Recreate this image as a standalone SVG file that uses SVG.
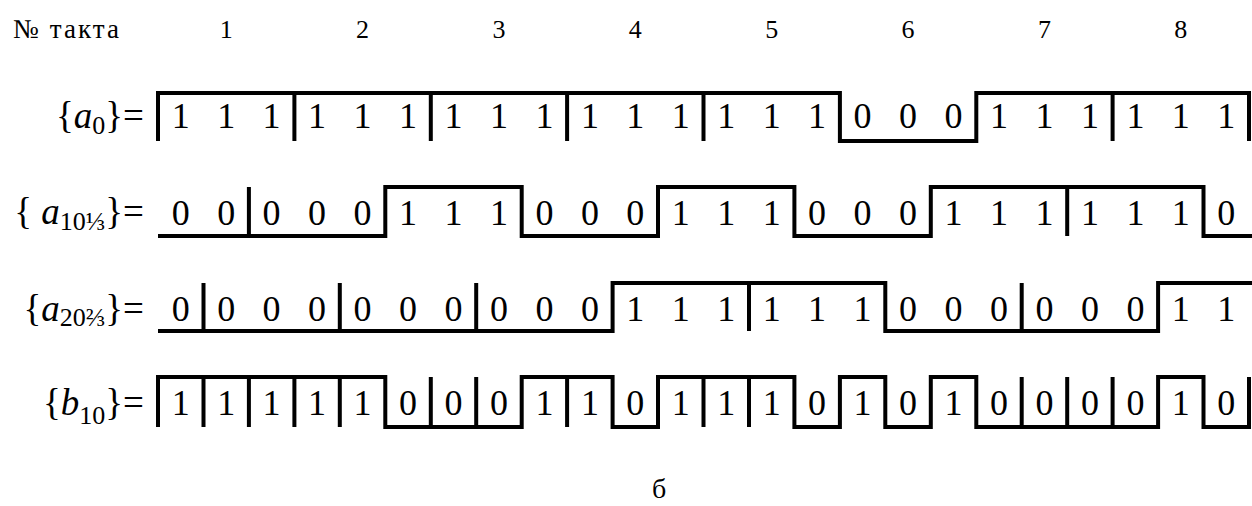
<svg xmlns="http://www.w3.org/2000/svg" width="1252" height="506" viewBox="0 0 1252 506">
<style>
text{font-family:'Liberation Serif','Times New Roman',serif;fill:#000}
.hd{font-size:26px;text-anchor:middle}
.d{font-size:36px;text-anchor:middle}
.lb{font-size:37px;text-anchor:end}
.it{font-style:italic}
.sub{font-size:26px}
.w{fill:none;stroke:#000;stroke-width:4;stroke-linejoin:miter;stroke-linecap:butt}
</style>
<rect width="1252" height="506" fill="#fff"/>
<g id="header">
<text x="13" y="38" style="font-size:27px" textLength="106" lengthAdjust="spacing">№ такта</text>
<text class="hd" x="226.2" y="38">1</text>
<text class="hd" x="362.6" y="38">2</text>
<text class="hd" x="499" y="38">3</text>
<text class="hd" x="635.3" y="38">4</text>
<text class="hd" x="771.7" y="38">5</text>
<text class="hd" x="908.1" y="38">6</text>
<text class="hd" x="1044.4" y="38">7</text>
<text class="hd" x="1180.8" y="38">8</text>
</g>
<g id="row-a0">
<text class="lb" x="144" y="128">{<tspan class="it">a</tspan><tspan class="sub" dy="6">0</tspan><tspan dy="-6">}=</tspan></text>
<path class="w" d="M158,141V93H839.9V141H976.3V93H1249V141"/>
<path class="w" d="M294.4,93V141M430.8,93V141M567.1,93V141M703.5,93V141M1112.6,93V141"/>
<g class="bits">
<text class="d" x="180.7" y="128">1</text><text class="d" x="226.2" y="128">1</text><text class="d" x="271.6" y="128">1</text>
<text class="d" x="317.1" y="128">1</text><text class="d" x="362.6" y="128">1</text><text class="d" x="408" y="128">1</text>
<text class="d" x="453.5" y="128">1</text><text class="d" x="498.9" y="128">1</text><text class="d" x="544.4" y="128">1</text>
<text class="d" x="589.9" y="128">1</text><text class="d" x="635.3" y="128">1</text><text class="d" x="680.8" y="128">1</text>
<text class="d" x="726.2" y="128">1</text><text class="d" x="771.7" y="128">1</text><text class="d" x="817.1" y="128">1</text>
<text class="d" x="862.6" y="128">0</text><text class="d" x="908.1" y="128">0</text><text class="d" x="953.5" y="128">0</text>
<text class="d" x="999" y="128">1</text><text class="d" x="1044.4" y="128">1</text><text class="d" x="1089.9" y="128">1</text>
<text class="d" x="1135.4" y="128">1</text><text class="d" x="1180.8" y="128">1</text><text class="d" x="1226.3" y="128">1</text>
</g>
</g>
<g id="row-a10">
<text class="lb" x="144" y="224">{ <tspan class="it">a</tspan><tspan class="sub" dy="6">10⅓</tspan><tspan dy="-6">}=</tspan></text>
<path class="w" d="M158,236H385.3V187H521.7V236H658V187H794.4V236H930.8V187H1203.5V236H1252"/>
<path class="w" d="M248.9,187V236M1067.2,187V236"/>
<g class="bits">
<text class="d" x="180.7" y="225">0</text><text class="d" x="226.2" y="225">0</text>
<text class="d" x="271.6" y="225">0</text><text class="d" x="317.1" y="225">0</text><text class="d" x="362.6" y="225">0</text>
<text class="d" x="408" y="225">1</text><text class="d" x="453.5" y="225">1</text><text class="d" x="498.9" y="225">1</text>
<text class="d" x="544.4" y="225">0</text><text class="d" x="589.9" y="225">0</text><text class="d" x="635.3" y="225">0</text>
<text class="d" x="680.8" y="225">1</text><text class="d" x="726.2" y="225">1</text><text class="d" x="771.7" y="225">1</text>
<text class="d" x="817.1" y="225">0</text><text class="d" x="862.6" y="225">0</text><text class="d" x="908.1" y="225">0</text>
<text class="d" x="953.5" y="225">1</text><text class="d" x="999" y="225">1</text><text class="d" x="1044.4" y="225">1</text>
<text class="d" x="1089.9" y="225">1</text><text class="d" x="1135.4" y="225">1</text><text class="d" x="1180.8" y="225">1</text>
<text class="d" x="1226.3" y="225">0</text>
</g>
</g>
<g id="row-a20">
<text class="lb" x="144" y="321">{<tspan class="it">a</tspan><tspan class="sub" dy="5">20⅔</tspan><tspan dy="-5">}=</tspan></text>
<path class="w" d="M158,331H612.6V283H885.3V331H1158.1V283H1252"/>
<path class="w" d="M203.5,283V331M339.8,283V331M476.2,283V331M749,283V331M1021.7,283V331"/>
<g class="bits">
<text class="d" x="180.7" y="321">0</text>
<text class="d" x="226.2" y="321">0</text><text class="d" x="271.6" y="321">0</text><text class="d" x="317.1" y="321">0</text>
<text class="d" x="362.6" y="321">0</text><text class="d" x="408" y="321">0</text><text class="d" x="453.5" y="321">0</text>
<text class="d" x="498.9" y="321">0</text><text class="d" x="544.4" y="321">0</text><text class="d" x="589.9" y="321">0</text>
<text class="d" x="635.3" y="321">1</text><text class="d" x="680.8" y="321">1</text><text class="d" x="726.2" y="321">1</text>
<text class="d" x="771.7" y="321">1</text><text class="d" x="817.1" y="321">1</text><text class="d" x="862.6" y="321">1</text>
<text class="d" x="908.1" y="321">0</text><text class="d" x="953.5" y="321">0</text><text class="d" x="999" y="321">0</text>
<text class="d" x="1044.4" y="321">0</text><text class="d" x="1089.9" y="321">0</text><text class="d" x="1135.4" y="321">0</text>
<text class="d" x="1180.8" y="321">1</text><text class="d" x="1226.3" y="321">1</text>
</g>
</g>
<g id="row-b10">
<text class="lb" x="144" y="415">{<tspan class="it">b</tspan><tspan class="sub" dy="9">10</tspan><tspan dy="-9">}=</tspan></text>
<path class="w" d="M158,427V377H385.3V427H521.7V377H612.6V427H658V377H794.4V427H839.9V377H885.3V427H930.8V377H976.3V427H1158.1V377H1203.5V427H1249V377"/>
<path class="w" d="M203.5,377V427M248.9,377V427M294.4,377V427M339.8,377V427M430.8,377V427M476.2,377V427M567.1,377V427M703.5,377V427M749,377V427M1021.7,377V427M1067.2,377V427M1112.6,377V427"/>
<g class="bits">
<text class="d" x="180.7" y="415">1</text><text class="d" x="226.2" y="415">1</text><text class="d" x="271.6" y="415">1</text>
<text class="d" x="317.1" y="415">1</text><text class="d" x="362.6" y="415">1</text><text class="d" x="408" y="415">0</text>
<text class="d" x="453.5" y="415">0</text><text class="d" x="498.9" y="415">0</text><text class="d" x="544.4" y="415">1</text>
<text class="d" x="589.9" y="415">1</text><text class="d" x="635.3" y="415">0</text><text class="d" x="680.8" y="415">1</text>
<text class="d" x="726.2" y="415">1</text><text class="d" x="771.7" y="415">1</text><text class="d" x="817.1" y="415">0</text>
<text class="d" x="862.6" y="415">1</text><text class="d" x="908.1" y="415">0</text><text class="d" x="953.5" y="415">1</text>
<text class="d" x="999" y="415">0</text><text class="d" x="1044.4" y="415">0</text><text class="d" x="1089.9" y="415">0</text>
<text class="d" x="1135.4" y="415">0</text><text class="d" x="1180.8" y="415">1</text><text class="d" x="1226.3" y="415">0</text>
</g>
</g>
<g id="caption">
<text x="659" y="498" style="font-size:28px;text-anchor:middle">б</text>
</g>
</svg>
